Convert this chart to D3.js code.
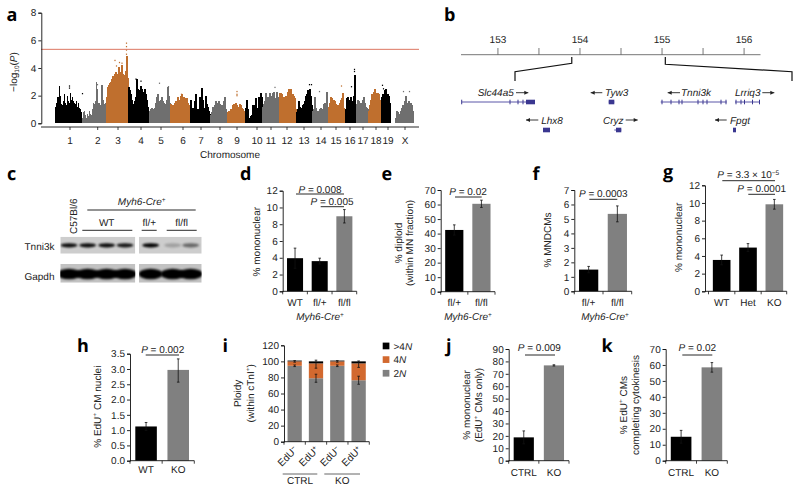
<!DOCTYPE html>
<html><head><meta charset="utf-8">
<script src="https://cdn.jsdelivr.net/npm/d3@7"></script>
<style>
html,body{margin:0;padding:0;background:#fff}
svg{display:block}
text{font-family:"Liberation Sans",Arial,sans-serif;font-size:10px;fill:#222;text-rendering:geometricPrecision}
.letter{font-family:"Open Sans",sans-serif;font-weight:700;font-size:18px;fill:#000}
</style></head><body>
<svg id="c" width="800" height="491"></svg>
<script>
// ---------- panel a data ----------
const chromNames=["1","2","3","4","5","6","7","8","9","10","11","12","13","14","15","16","17","18","19","X"];
const chromStart=[0,27,51.5,73.5,94.5,115.5,135.5,155.5,172.5,190.5,207.5,224.5,241.5,257.5,273.5,290.5,301.5,313.5,326.5,340.5];
const chromEnd=[27,51.5,73.5,94.5,115.5,135.5,155.5,172.5,190.5,207.5,224.5,241.5,257.5,273.5,289.5,301.5,313.5,326.5,335.5,358.5];
const chromTick=[15.5,43.2,63.5,86.5,106.5,128.5,146.5,165.5,182.5,202.5,216.5,232.5,249.5,266.5,281.5,295.5,308.5,321.5,333.5,350.5];
const chromPeaks=[
[1.2,1.5,1.9,1.9,2.7,2.0,1.4,1.3,1.6,2.1,1.5,1.3,2.0,1.6,1.5,2.2,1.7,1.9,1.6,1.5,1.4,1.6,1.2,1.5,1.1,1.0,0.8],
[.4,.8,.9,.6,.4,.7,.5,.9,.7,.6,1.0,1.5,1.4,1.6,3.0,2.5,1.5,1.5,1.3,2.8,1.7,1.4,1.3,1.5],
[1.9,2.6,2.8,2.9,3.0,3.2,3.4,3.3,3.6,3.7,3.4,3.6,4.1,3.6,3.7,4.2,3.6,3.4,3.5,3.8,4.9,3.3],
[2.6,2.4,2.1,1.7,1.4,1.3,1.6,1.9,3.2,2.5,2.3,2.4,2.7,2.5,2.3,2.2,2.5,2.1,1.7,1.2,0.9],
[.9,1.0,1.1,1.0,.9,1.1,1.5,1.9,2.1,1.6,1.6,1.7,1.9,1.6,1.5,1.4,1.3,1.7,2.6,2.0,1.5],
[1.4,1.2,1.3,1.2,1.5,1.6,1.5,1.9,1.7,1.6,2.0,2.1,1.7,1.9,1.6,1.8,1.8,1.5,1.3,1.1],
[1.7,1.0,1.1,1.0,1.6,2.1,1.0,1.0,1.0,1.9,1.0,2.55,1.7,1.1,1.0,2.0,1.4,1.2,.9,.7],
[.6,.8,1.2,1.0,1.3,1.6,1.4,1.5,1.6,1.4,1.3,1.3,1.2,1.6,1.9,1.0,.8],
[.8,.9,.9,1.0,1.0,1.3,1.4,1.1,1.5,1.3,1.2,1.0,1.4,1.3,1.1,1.0,.9,.7],
[1.1,1.7,1.0,.4,.3,.5,.6,1.3,.7,1.3,1.8,1.1,.9,1.9,1.5,2.2,1.9],
[1.2,1.4,1.6,2.2,1.9,1.7,1.9,2.2,2.0,1.8,2.2,2.3,1.2,1.8,2.3,1.9,1.6],
[2.2,2.2,2.1,1.7,1.9,1.8,2.0,1.9,2.3,2.5,2.4,2.5,2.0,2.1,2.0,1.8,1.0],
[.8,1.0,1.6,1.2,1.0,1.1,1.3,1.4,1.6,2.0,2.1,2.4,1.9,2.5,2.0,1.3],
[.9,1.0,1.9,1.1,.9,.8,.9,1.0,1.1,1.0,1.0,1.4,1.5,1.4,2.3,1.0],
[1.2,1.5,1.9,1.8,1.7,1.7,1.6,1.4,1.3,1.3,1.2,1.5,1.7,1.8,2.2,1.1],
[1.0,1.8,1.9,1.7,1.6,1.9,1.2,1.6,2.0,3.5,1.1],
[1.4,1.7,1.6,1.5,1.5,1.5,1.7,1.9,1.5,1.2,1.1,1.0],
[.9,1.3,1.7,2.1,2.0,2.3,2.5,2.2,2.0,2.2,2.1,1.7,1.3],
[1.9,2.1,1.9,2.4,2.5,1.9,2.1,2.0,1.5],
[.4,.9,.8,.5,.7,.9,1.1,1.3,1.1,1.6,2.0,1.5,1.4,1.6,1.3,1.5,1.3,.9]];
const chromColors=["#000","#6f6f6f","#bf6f2e"];
// outliers: [chromosome index, genome position, -log10 P]
const chromOutliers=[[0,15,2.7],[0,15,2.55],[0,28,2.15],[1,43,2.8],[2,60.5,4.55],[2,62,4.15],[2,65,4.4],[2,67.5,4.35],[2,72,5.0],[2,72,5.3],[2,72,5.55],[2,72,5.8],[3,81.5,3.2],[3,86.5,3.05],[4,105,2.9],[4,114,2.65],[5,127,2.1],[8,182.5,2.3],[8,182.5,2.1],[8,182.5,2.0],[10,220.5,2.6],[12,255,2.8],[12,257,2.8],[13,265,2.3],[14,287,2.7],[15,297,2.65],[15,300,3.9],[15,300,3.75],[18,328,2.75],[18,329,2.5],[19,349,2.3],[19,355,2.3]];
const thresholdP=5.35;
// ---------- panel b data ----------
const mbTicks=[153,153.5,154,154.5,155,155.5,156];
const mbLabels=[153,154,155,156];
const zoomEnds=[153.9,155.04];
const geneNames=["Slc44a5","Tyw3","Tnni3k","Lrriq3","Lhx8","Cryz","Fpgt"];
const geneSpan=[[.7,74],[147.7,153.3],[199.7,265.7],[274,299],[82,89],[153.3,160.3],[272,275]];
const geneExons=[[.7,49,57,62,[65,74]],[[147.7,153.3]],[201,210,218,221,237,242,246,260,265],[275,280,283.5,291.5,298.5],[[82,89]],[[155,160.3]],[[272,275]]];
const geneRow=[0,0,0,0,1,1,1];
const geneLabelX=[34.7,155.7,235,286.7,91,152.3,279];
const geneArrow=[[55,67.3],[141.3,129.7],[219,206.7],[301.3,313.3],[77.3,65],[164.7,176.7],[265.7,254]];
// ---------- panel c data ----------
const blotLanes=[207,263,320,375,452,518,572];
const tnni3kBand=[.95,.95,.95,.9,1,.22,.5];
const gapdhBand=[1,1,1,1,1,1,1];
// ---------- bar panels data ----------
const dCats=["WT","fl/+","fl/fl"], dVals=[3.95,3.6,8.95], dHi=[5.15,3.95,9.75], dLo=[2.75,3.25,8.15];
const eCats=["fl/+","fl/fl"], eVals=[42.5,60.5], eHi=[46,63], eLo=[39,58];
const fCats=["fl/+","fl/fl"], fVals=[1.5,5.35], fHi=[1.72,5.9], fLo=[1.28,4.8];
const gCats=["WT","Het","KO"], gVals=[3.55,4.95,9.85], gHi=[4.1,5.4,10.4], gLo=[3.0,4.5,9.3];
const hCats=["WT","KO"], hVals=[1.12,2.97], hHi=[1.25,3.33], hLo=[.99,2.57];
const jCats=["CTRL","KO"], jVals=[18.8,76.8], jHi=[24,77.3], jLo=[13.6,76.3];
const kCats=["CTRL","KO"], kVals=[15,58.5], kHi=[19,61.5], kLo=[11,55.5];
const iCats=["EdU^−^","EdU^+^","EdU^−^","EdU^+^"];
const i2N=[94.5,79,94.5,76.5], i4N=[5.5,18.5,5.5,21], iMore=[1,2.5,1,2.5];
const i2NErr=[1,5,1,5], iTopErr=[1,5,1,4];
const iLegend=[">4*N*","4*N*","2*N*"], iColors=["#000","#d2692f","#808080"];
</script>
<script>
const svg=d3.select("#c");
const barBlack="#000", barGray="#808080";
// inline markup: *italic* ^sup^ _sub_
function rich(sel,str){
  const parts=str.split(/(\*[^*]+\*|\^[^^]+\^|_[^_]+_)/).filter(s=>s);
  let shift=0;
  parts.forEach(p=>{
    let t=p,st=null;
    if(p[0]=="*"){t=p.slice(1,-1);st="i"} else if(p[0]=="^"){t=p.slice(1,-1);st="sup"} else if(p[0]=="_"){t=p.slice(1,-1);st="sub"}
    const want=st=="sup"?-3.5:st=="sub"?2:0;
    const ts=sel.append("tspan").text(t).attr("dy",want-shift);
    shift=want;
    if(st=="i")ts.style("font-style","italic");
    if(st=="sup"||st=="sub")ts.style("font-size","6.5px");
  });
  return sel;
}
function label(g,x,y,str,anchor,extra){
  const t=g.append("text").attr("x",x).attr("y",y).attr("text-anchor",anchor||"middle");
  if(extra)extra(t);
  return rich(t,str);
}
function vlabel(g,xc,yc,str){
  const t=g.append("text").attr("transform",`translate(${xc+3.5},${yc}) rotate(-90)`).attr("text-anchor","middle");
  return rich(t,str);
}
function hline(g,x1,x2,y,w,col){
  g.append("line").attr("x1",x1).attr("x2",x2).attr("y1",y).attr("y2",y).attr("stroke",col||"#111").attr("stroke-width",w||.9);
}
function yAxis(g,x,scale,ticks,fmt){
  const a=d3.axisLeft(scale).tickValues(ticks).tickSizeOuter(0).tickSize(3).tickPadding(2).tickFormat(fmt||d3.format("d"));
  const ax=g.append("g").attr("transform",`translate(${x},0)`).call(a);
  ax.selectAll("path,line").attr("stroke","#111").attr("stroke-width",.9);
  ax.selectAll("text").attr("fill","#222");
  ax.attr("font-family",null).attr("font-size",null);
  return ax;
}
function letter(s,x,y){svg.append("text").attr("class","letter").attr("x",x).attr("y",y).text(s)}
[["a",6.5,20.5],["b",444,20.5],["c",7,180],["d",240,180],["e",381.5,180],["f",532.5,180],["g",663,178],["h",77,352],["i",222.5,352],["j",446,352],["k",601.5,352]].forEach(d=>letter(...d));

// ---------- panel a ----------
(function(){
  const g=svg.append("g");
  const x=d3.scaleLinear().domain([0,358.5]).range([54.5,413]);
  const y=d3.scaleLinear().domain([0,8]).range([123.3,12.7]);
  const stems=[];
  chromPeaks.forEach((arr,c)=>{
    const sx=d3.scaleLinear().domain([0,arr.length]).range([chromStart[c],chromEnd[c]]);
    arr.forEach((v,i)=>stems.push({c,x:sx(i),w:sx(i+1)-sx(i),v}));
  });
  g.append("g").attr("shape-rendering","crispEdges").selectAll("rect").data(stems).join("rect")
    .attr("x",d=>x(d.x)).attr("width",d=>x(d.x+d.w)-x(d.x)+.6)
    .attr("y",d=>y(d.v)).attr("height",d=>y(0)-y(d.v))
    .attr("fill",d=>chromColors[d.c%3]);
  g.append("g").selectAll("rect").data(chromOutliers).join("rect")
    .attr("x",d=>x(d[1])-.6).attr("y",d=>y(d[2])-.6).attr("width",1.2).attr("height",1.3)
    .attr("fill",d=>chromColors[d[0]%3]);
  g.append("line").attr("x1",41).attr("x2",419).attr("y1",y(thresholdP)).attr("y2",y(thresholdP)).attr("stroke","#dc7662").attr("stroke-width",1);
  yAxis(g,41.3,y,[0,2,4,6,8]);
  hline(g,41,419,127,.9);
  const bx=g.append("g").attr("transform","translate(0,127)");
  chromNames.forEach((n,i)=>{
    const px=x(chromTick[i]);
    bx.append("line").attr("x1",px).attr("x2",px).attr("y1",0).attr("y2",3).attr("stroke","#111").attr("stroke-width",.8);
    bx.append("text").attr("x",px).attr("y",16.5).attr("text-anchor","middle").text(n);
  });
  label(g,230,158.2,"Chromosome");
  vlabel(g,13,72,"−log_10_(*P*)");
})();

// ---------- panel b ----------
(function(){
  const g=svg.append("g");
  const x=d3.scaleLinear().domain([152.55,156.2]).range([461,760.5]);
  const yA=54.7;
  g.append("line").attr("x1",x.range()[0]).attr("x2",x.range()[1]).attr("y1",yA).attr("y2",yA).attr("stroke","#777").attr("stroke-width",1);
  g.selectAll(".mbt").data(mbTicks).join("line").attr("x1",d=>x(d)).attr("x2",d=>x(d)).attr("y1",48).attr("y2",yA).attr("stroke","#555").attr("stroke-width",.8);
  g.selectAll(".mbl").data(mbLabels).join("text").attr("x",d=>x(d)).attr("y",43).attr("text-anchor","middle").text(d=>d);
  const line=d3.line();
  const d2=d3.scaleLinear().domain([0,300]).range([461,761]);
  g.append("path").attr("d",line([[x(zoomEnds[0]),57],[x(zoomEnds[0]),63.3],[515,71.7],[515,81]])).attr("fill","none").attr("stroke","#111").attr("stroke-width",1.2);
  g.append("path").attr("d",line([[x(zoomEnds[1]),57],[x(zoomEnds[1]),64.3],[792,71.7],[792,81]])).attr("fill","none").attr("stroke","#111").attr("stroke-width",1.2);
  const rowY=[102,130], labY=[96.2,123.5], arrY=[92.7,120];
  geneNames.forEach((n,i)=>{
    const r=geneRow[i], yy=rowY[r];
    g.append("line").attr("x1",d2(geneSpan[i][0])).attr("x2",d2(geneSpan[i][1])).attr("y1",yy).attr("y2",yy).attr("stroke","#5a57a8").attr("stroke-width",1);
    geneExons[i].forEach(e=>{
      const a=Array.isArray(e)?e[0]:e-.5, b=Array.isArray(e)?e[1]:e+.5;
      g.append("rect").attr("x",d2(a)).attr("width",d2(b)-d2(a)).attr("y",yy-2.3).attr("height",4.6).attr("fill","#3a3790");
    });
    g.append("text").attr("x",d2(geneLabelX[i])).attr("y",labY[r]).attr("text-anchor","middle").style("font-style","italic").text(n);
    const [a,b]=geneArrow[i], dir=b>a?1:-1, ay=arrY[r];
    g.append("line").attr("x1",d2(a)).attr("x2",d2(b)).attr("y1",ay).attr("y2",ay).attr("stroke","#222").attr("stroke-width",.9);
    g.append("path").attr("d",line([[d2(b),ay],[d2(b)-dir*4,ay-2],[d2(b)-dir*4,ay+2]])).attr("fill","#222");
  });
})();

// ---------- panel c ----------
(function(){
  const g=svg.append("g");
  const defs=svg.append("defs");
  defs.append("filter").attr("id","bl").attr("x","-30%").attr("y","-60%").attr("width","160%").attr("height","220%").append("feGaussianBlur").attr("stdDeviation",.9);
  const bx=d3.scaleLinear().domain([0,810]).range([0,270]);
  const boxes=[[60.3,135.3],[139,201.7]];
  const rows=[{y0:236.7,y1:253.7,cy:245.3,h:4.2,vals:tnni3kBand,bg:"#cdcdcd"},{y0:264,y1:282.7,cy:274,h:10.5,vals:gapdhBand,bg:"#c2c2c2"}];
  rows.forEach((r,ri)=>{
    boxes.forEach((b,bi)=>{
      const id=`cl${ri}${bi}`;
      defs.append("clipPath").attr("id",id).append("rect").attr("x",b[0]).attr("y",r.y0).attr("width",b[1]-b[0]).attr("height",r.y1-r.y0);
      const gg=g.append("g").attr("clip-path",`url(#${id})`);
      gg.append("rect").attr("x",b[0]).attr("y",r.y0).attr("width",b[1]-b[0]).attr("height",r.y1-r.y0).attr("fill",r.bg);
      const idx=bi==0?[0,1,2,3]:[4,5,6];
      idx.forEach(i=>{
        const w=r===rows[1]?12:8.5;
        gg.append("ellipse").attr("cx",bx(blotLanes[i])).attr("cy",r.cy).attr("rx",w).attr("ry",r.h/2)
          .attr("fill","#000").attr("opacity",r.vals[i]).attr("filter","url(#bl)");
      });
    });
  });
  label(g,54.5,250.2,"Tnni3k","end");
  label(g,54.5,279.5,"Gapdh","end");
  g.append("text").attr("transform","translate(77,234) rotate(-90)").text("C57Bl/6");
  label(g,141.7,205,"*Myh6-Cre*^+^");
  hline(g,87.3,195.7,210,.9);
  label(g,106.7,226,"WT");
  hline(g,82.3,132.3,230.3,.9);
  label(g,149.3,226,"fl/+");
  hline(g,141.7,156.7,230.3,.9);
  label(g,181.7,226,"fl/fl");
  hline(g,166.7,196.7,230.3,.9);
})();

// ---------- simple bar panels ----------
function errBars(g,data){
  g.selectAll(".eb").data(data).join("g").each(function(d){
    const s=d3.select(this);
    s.append("line").attr("x1",d.x).attr("x2",d.x).attr("y1",d.hi).attr("y2",d.lo).attr("stroke","#111").attr("stroke-width",.8);
    [d.hi,d.lo].forEach(v=>s.append("line").attr("x1",d.x-1.3).attr("x2",d.x+1.3).attr("y1",v).attr("y2",v).attr("stroke","#111").attr("stroke-width",.8));
  });
}
function barPanel(o){
  const g=svg.append("g");
  const y=d3.scaleLinear().domain([0,o.ymax]).range([o.y0,o.ytop]);
  const x=d3.scaleBand().domain(o.cats.map((c,i)=>i)).range(o.band).paddingInner(o.pad).paddingOuter(o.pad/2);
  g.selectAll("rect").data(o.vals).join("rect").attr("x",(d,i)=>x(i)).attr("width",x.bandwidth())
    .attr("y",d=>y(d)).attr("height",d=>y(0)-y(d)).attr("fill",(d,i)=>o.cols[i]);
  errBars(g,o.vals.map((d,i)=>({x:x(i)+x.bandwidth()/2,hi:y(o.hi[i]),lo:y(o.lo[i])})));
  yAxis(g,o.ax,y,o.ticks,o.fmt);
  hline(g,o.ax,o.axEnd,o.y0,.9);
  const bottom=d3.axisBottom(x).tickSize(0).tickPadding(o.labPad).tickFormat(i=>o.cats[i]);
  const bg=g.append("g").attr("transform",`translate(0,${o.y0})`).call(bottom);
  bg.select(".domain").remove();
  bg.attr("font-size",null).attr("font-family",null);
  bg.selectAll("text").attr("fill","#222");
  const st=x.step();
  o.cats.forEach((c,i)=>{const t=x(i)-st*o.pad/2;g.append("line").attr("x1",t).attr("x2",t).attr("y1",o.y0).attr("y2",o.y0+3).attr("stroke","#111").attr("stroke-width",.8)});
  g.append("line").attr("x1",o.axEnd).attr("x2",o.axEnd).attr("y1",o.y0).attr("y2",o.y0+3).attr("stroke","#111").attr("stroke-width",.8);
  o.ylabel.forEach(l=>vlabel(g,l[0],l[1],l[2]));
  (o.ps||[]).forEach(p=>{
    label(g,p.cx,p.by,p.t);
    hline(g,p.x1,p.x2,p.ly,.9);
  });
  if(o.cre)label(g,o.cre,320,"*Myh6-Cre*^+^");
  return g;
}
const twoCols=[barBlack,barGray], threeCols=[barBlack,barBlack,barGray];
barPanel({cats:dCats,vals:dVals,hi:dHi,lo:dLo,cols:threeCols,ymax:12,y0:291.3,ytop:190.7,band:[282.7,356.7],pad:.35,ax:282.7,axEnd:356.7,ticks:[0,2,4,6,8,10,12],labPad:7.6,
  ylabel:[[256.6,241.7,"% mononuclear"]],cre:320,
  ps:[{cx:320,by:192.5,t:"*P* = 0.008",x1:296,x2:344,ly:194},{cx:332,by:204.5,t:"*P* = 0.005",x1:320.7,x2:344,ly:206.7}]});
barPanel({cats:eCats,vals:eVals,hi:eHi,lo:eLo,cols:twoCols,ymax:70,y0:291.7,ytop:190,band:[440.7,495],pad:.33,ax:440.7,axEnd:495,ticks:[0,10,20,30,40,50,60,70],labPad:7.6,
  ylabel:[[398,243,"% diploid"],[409.5,243,"(within MN fraction)"]],cre:468,
  ps:[{cx:468,by:195,t:"*P* = 0.02",x1:455,x2:481.7,ly:197}]});
barPanel({cats:fCats,vals:fVals,hi:fHi,lo:fLo,cols:twoCols,ymax:7,y0:291.3,ytop:190,band:[574.3,631.7],pad:.33,ax:574.3,axEnd:631.7,ticks:[0,1,2,3,4,5,6,7],labPad:7.6,
  ylabel:[[547.3,240,"% MNDCMs"]],cre:605,
  ps:[{cx:603.3,by:196.5,t:"*P* = 0.0003",x1:589.3,x2:617.3,ly:199.3}]});
barPanel({cats:gCats,vals:gVals,hi:gHi,lo:gLo,cols:threeCols,ymax:12,y0:291.3,ytop:185.3,band:[708.5,787.5],pad:.33,ax:705,axEnd:786.7,ticks:[0,2,4,6,8,10,12],labPad:7.6,
  ylabel:[[678.3,237.3,"% mononuclear"]],
  ps:[{cx:748.3,by:178,t:"*P* = 3.3 × 10^−5^",x1:722.3,x2:775,ly:180.7},{cx:761.7,by:192,t:"*P* = 0.0001",x1:748.3,x2:775,ly:194.3}]});
barPanel({cats:hCats,vals:hVals,hi:hHi,lo:hLo,cols:twoCols,ymax:3.5,y0:460.7,ytop:353.7,band:[130,194.3],pad:.33,ax:130,axEnd:194.3,ticks:[0,.5,1,1.5,2,2.5,3,3.5],fmt:d3.format(".1f"),labPad:5.7,
  ylabel:[[97.3,406.7,"% EdU^+^ CM nuclei"]],
  ps:[{cx:162.7,by:352.5,t:"*P* = 0.002",x1:145.7,x2:179,ly:355}]});
barPanel({cats:jCats,vals:jVals,hi:jHi,lo:jLo,cols:twoCols,ymax:90,y0:460.7,ytop:349,band:[508.7,569],pad:.33,ax:508.7,axEnd:569,ticks:[0,10,20,30,40,50,60,70,80,90],labPad:8.4,
  ylabel:[[466.7,405,"% mononuclear"],[478.3,405,"(EdU^+^ CMs only)"]],
  ps:[{cx:539.3,by:351,t:"*P* = 0.009",x1:525,x2:555,ly:355}]});
barPanel({cats:kCats,vals:kVals,hi:kHi,lo:kLo,cols:twoCols,ymax:70,y0:460.7,ytop:349,band:[665.7,727.3],pad:.33,ax:665.7,axEnd:727.3,ticks:[0,10,20,30,40,50,60,70],labPad:8.4,
  ylabel:[[623.3,405,"% EdU^+^ CMs"],[635,405,"completing cytokinesis"]],
  ps:[{cx:697.3,by:351,t:"*P* = 0.02",x1:682.3,x2:712.3,ly:355}]});

// ---------- panel i ----------
(function(){
  const g=svg.append("g");
  const y=d3.scaleLinear().domain([0,120]).range([441.7,345.3]);
  const x=d3.scaleBand().domain(d3.range(4)).range([284,369.3]).paddingInner(.33).paddingOuter(.165);
  const rows=i2N.map((v,i)=>({i,"2N":v,"4N":i4N[i],">4N":iMore[i]}));
  const stack=d3.stack().keys(["2N","4N",">4N"])(rows);
  const col={"2N":iColors[2],"4N":iColors[1],">4N":iColors[0]};
  g.selectAll(".s").data(stack).join("g").attr("fill",d=>col[d.key]).selectAll("rect").data(d=>d).join("rect")
    .attr("x",d=>x(d.data.i)).attr("width",x.bandwidth()).attr("y",d=>y(d[1])).attr("height",d=>y(d[0])-y(d[1]));
  const cx=i=>x(i)+x.bandwidth()/2;
  const ebs=[];
  i2N.forEach((v,i)=>{
    ebs.push({x:cx(i),hi:y(v+i2NErr[i]),lo:y(v-i2NErr[i])});
    const top=i2N[i]+i4N[i];
    ebs.push({x:cx(i),hi:y(top+iTopErr[i]-(iMore[i]>1?1:0)),lo:y(top-iTopErr[i]-(iMore[i]>1?1:0))});
  });
  errBars(g,ebs);
  yAxis(g,284,y,[0,20,40,60,80,100,120]);
  hline(g,284,369.3,441.7,.9);
  const st=x.step();
  d3.range(4).forEach(i=>{const t=x(i)-st*.165;g.append("line").attr("x1",t).attr("x2",t).attr("y1",441.7).attr("y2",444.7).attr("stroke","#111").attr("stroke-width",.8);
    const tx=g.append("text").attr("text-anchor","end").attr("transform",`translate(${cx(i)+3.5},450.5) rotate(-45)`);
    rich(tx,iCats[i]);
  });
  g.append("line").attr("x1",369.3).attr("x2",369.3).attr("y1",441.7).attr("y2",444.7).attr("stroke","#111").attr("stroke-width",.8);
  hline(g,282.7,317.3,474,.9,"#555");
  hline(g,324.3,360,474,.9,"#555");
  label(g,300,484.2,"CTRL");
  label(g,342.3,484.2,"KO");
  vlabel(g,237.3,393.3,"Ploidy");
  vlabel(g,250,393.3,"(within cTnI^+^)");
  iLegend.forEach((t,i)=>{
    const yy=346+i*13.65;
    g.append("rect").attr("x",382.7).attr("y",yy-3.4).attr("width",6.7).attr("height",6.7).attr("fill",iColors[i]);
    label(g,393.5,yy+3.5,t,"start");
  });
})();
</script>
</body></html>
